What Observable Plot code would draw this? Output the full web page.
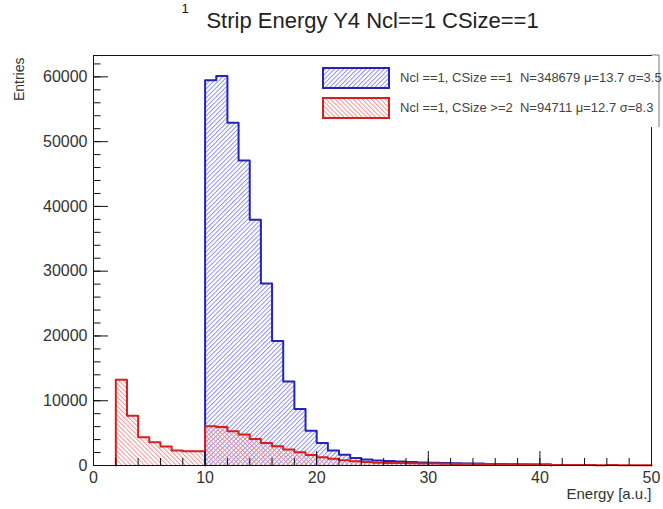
<!DOCTYPE html>
<html><head><meta charset="utf-8">
<script src="https://cdn.jsdelivr.net/npm/d3@7"></script>
<script src="https://cdn.jsdelivr.net/npm/@observablehq/plot@0.6"></script>
<style>
body{margin:0;background:#fff;}
#chart{width:663px;height:509px;overflow:hidden;position:relative;}
</style>
</head><body><div id="chart"></div>
<script>
const title = "Strip Energy Y4 Ncl==1 CSize==1";
const topFragment = "1";
const xLabel = "Energy [a.u.]";
const yLabel = "Entries";
const binWidth = 1;
// Ncl==1, CSize==1 (blue), bins starting at 10
const blueStart = 10;
const blueCounts = [59490, 60150, 52920, 47080, 37950, 28110, 19230, 12970, 8720, 5380,
  3490, 2310, 1650, 1150, 920, 770, 680, 610, 530, 470, 440, 380, 350, 300, 290, 250, 220, 210, 170, 160, 140];
// Ncl==1, CSize>=2 (red), bins starting at 2
const redStart = 2;
const redCounts = [13230, 7690, 4350, 3590, 2920, 2310, 2200, 2200,
  6050, 5950, 5280, 4770, 4100, 3490, 2970, 2460, 2050, 1640, 1280, 1030, 800, 640, 530, 440,
  400, 370, 330, 320, 290, 280, 250, 260, 230, 220, 200, 190, 180, 160, 170,
  90, 70, 80, 60, 50, 60, 40, 40, 30];
const legendLabels = ["Ncl ==1, CSize ==1  N=348679 \u03bc=13.7 \u03c3=3.5",
                      "Ncl ==1, CSize >=2  N=94711 \u03bc=12.7 \u03c3=8.3"];
const xMajorTicks = [0, 10, 20, 30, 40, 50];
const xMinorTicks = d3.range(0, 51, 2);
const yMajorTicks = [0, 10000, 20000, 30000, 40000, 50000, 60000];
const yMinorTicks = d3.range(0, 63001, 2000);

const blueLine = "#2424b8";
const redLine = "#d42020";

const W = 663, H = 509, ML = 93, MR = 12, MT = 55, MB = 44;
const frameW = W - ML - MR, frameH = H - MT - MB;

function toBins(start, counts) {
  return counts.map((c, i) => ({x1: start + i * binWidth, x2: start + (i + 1) * binWidth, y: c}));
}
function outline(bins) {
  const last = bins[bins.length - 1];
  return [{x: bins[0].x1, y: 0}, ...bins.map(b => ({x: b.x1, y: b.y})), {x: last.x2, y: last.y}, {x: last.x2, y: 0}];
}
const blueBins = toBins(blueStart, blueCounts);
const redBins = toBins(redStart, redCounts);

const font = "'Liberation Sans', Arial, Helvetica, sans-serif";

const chart = Plot.plot({
  width: W, height: H,
  marginLeft: ML, marginRight: MR, marginTop: MT, marginBottom: MB,
  x: {domain: [0, 50]},
  y: {domain: [0, 63300]},
  style: {fontFamily: font, background: "white", overflow: "visible"},
  marks: [
    Plot.rectY(blueBins, {x1: "x1", x2: "x2", y: "y", fill: "url(#hatchBlue)", inset: 0}),
    Plot.rectY(redBins, {x1: "x1", x2: "x2", y: "y", fill: "url(#hatchRed)", inset: 0}),
    Plot.line(outline(blueBins), {x: "x", y: "y", curve: "step-after", stroke: blueLine, strokeWidth: 2}),
    Plot.line(outline(redBins), {x: "x", y: "y", curve: "step-after", stroke: redLine, strokeWidth: 2}),
    Plot.frame({stroke: "#111"}),
    // inward ticks
    Plot.ruleX(xMajorTicks, {x: d => d, insetTop: frameH - 14, stroke: "#111"}),
    Plot.ruleX(xMinorTicks, {x: d => d, insetTop: frameH - 7, stroke: "#111"}),
    Plot.ruleY(yMajorTicks, {y: d => d, insetRight: frameW - 15, stroke: "#111"}),
    Plot.ruleY(yMinorTicks, {y: d => d, insetRight: frameW - 7.5, stroke: "#111"}),
    Plot.axisX({ticks: xMajorTicks, tickSize: 0, tickPadding: 6, fontSize: 16, label: null, tickFormat: d3.format("d"), fill: "#333"}),
    Plot.axisY({ticks: yMajorTicks, tickSize: 0, tickPadding: 6, fontSize: 16, label: null, tickFormat: d3.format("d"), fill: "#333"}),
    Plot.text([title], {frameAnchor: "top", dy: -35, fontSize: 22, fill: "#222", lineAnchor: "middle"}),
    Plot.text([topFragment], {frameAnchor: "top-left", dx: 88, dy: -43, fontSize: 13, fill: "#111", lineAnchor: "bottom"}),
    Plot.text([xLabel], {frameAnchor: "bottom-right", dy: 29, fontSize: 15, fill: "#333", textAnchor: "end", lineAnchor: "middle"}),
    Plot.text([yLabel], {frameAnchor: "top-left", dx: -74, dy: 2, fontSize: 14, fill: "#333", rotate: -90, textAnchor: "end", lineAnchor: "middle"})
  ]
});

const svg = d3.select(chart);
const defs = svg.insert("defs", ":first-child");
function hatch(id, color, angle) {
  const p = defs.append("pattern").attr("id", id).attr("patternUnits", "userSpaceOnUse")
    .attr("width", 3.2).attr("height", 3.2).attr("patternTransform", `rotate(${angle})`);
  p.append("line").attr("x1", 0.5).attr("y1", 0).attr("x2", 0.5).attr("y2", 3.2)
    .attr("stroke", color).attr("stroke-width", 0.9);
}
hatch("hatchBlue", "#8484e6", 45);
hatch("hatchRed", "#f08c8c", -45);

// legend
const lg = svg.append("g").attr("font-family", font);
lg.append("rect").attr("x", 306).attr("y", 56).attr("width", 353).attr("height", 71).attr("fill", "white");
lg.append("path").attr("d", "M651,55H659V127").attr("fill", "none").attr("stroke", "#777").attr("stroke-width", 1);
const entries = [{fill: "url(#hatchBlue)", stroke: blueLine}, {fill: "url(#hatchRed)", stroke: redLine}];
entries.forEach((e, i) => {
  const y0 = 68 + i * 30;
  lg.append("rect").attr("x", 323).attr("y", y0).attr("width", 66).attr("height", 20).attr("fill", "white");
  lg.append("rect").attr("x", 323).attr("y", y0).attr("width", 66).attr("height", 20)
    .attr("fill", e.fill).attr("stroke", e.stroke).attr("stroke-width", 2);
  lg.append("text").attr("x", 400).attr("y", y0 + 9).attr("dy", "0.35em").attr("font-size", 13)
    .attr("text-anchor", "start").attr("fill", "#444").style("white-space", "pre").text(legendLabels[i]);
});

document.getElementById("chart").appendChild(chart);
</script>
</body></html>
